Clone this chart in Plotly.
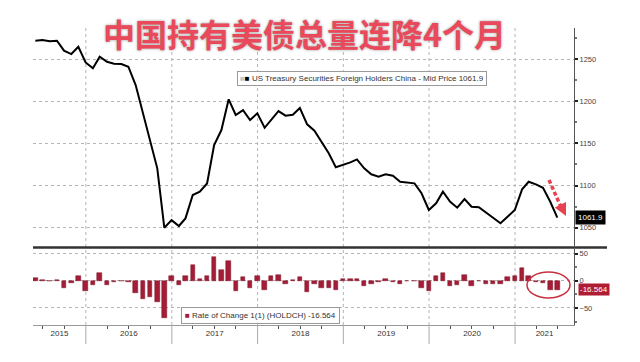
import pandas as pd
import plotly.graph_objects as go

# ---------------- data ----------------
months = pd.date_range("2015-05-31", periods=74, freq="ME")

holdings = [
    1271.7, 1272.5, 1271.0, 1271.7, 1259.9, 1255.9, 1264.6, 1246.0,
    1239.0, 1252.8, 1246.8, 1244.4, 1244.0, 1240.9, 1219.2, 1185.6, 1156.0, 1120.4, 1050.0, 1059.0,
    1052.0, 1061.0, 1088.7, 1092.7, 1102.5, 1148.0, 1165.8, 1202.2, 1183.6, 1189.5, 1177.7, 1185.6,
    1168.5, 1177.7, 1188.3, 1182.8, 1184.0, 1191.9, 1172.6, 1165.0, 1152.0, 1138.2, 1121.6, 1124.3,
    1127.5, 1131.0, 1120.4, 1113.3, 1110.5, 1113.3, 1111.7, 1104.5, 1103.4, 1102.6, 1090.8, 1071.0,
    1078.9, 1092.7, 1080.8, 1073.7, 1084.0, 1074.9, 1074.2, 1067.8, 1061.8, 1055.2, 1063.0, 1071.0,
    1095.5, 1104.5, 1101.4, 1097.4, 1080.8, 1061.9,
]

change = [
    5.5, 0.8, -1.2, 0.8, -12.5, -4.5, 9.5, -18.5,
    -8.0, 14.5, -7.0, -1.8, -0.6, -2.0, -22.5, -34.0, -29.5, -40.0, -68.0, 8.8,
    -7.0, 8.0, 28.5, 4.0, 9.5, 44.0, 19.0, 35.5, -19.0, 7.0, -12.5, 7.8,
    -16.5, 8.0, 10.0, -5.5, 1.0, 7.5, -20.0, -6.0, -13.0, -13.5, -17.0, 2.5,
    2.5, 3.2, -9.5, -6.8, -2.8, 2.5, -1.5, -6.5, -1.0, -0.8, -12.5, -19.5,
    7.8, 13.5, -10.5, -7.5, 10.2, -9.0, -0.6, -5.8, -5.8, -6.6, 7.6, 8.3,
    23.5, 8.5, -2.8, -3.8, -17.0, -16.564,
]

years = [2015, 2016, 2017, 2018, 2019, 2020, 2021]
upper_ticks = [1050, 1100, 1150, 1200, 1250]
lower_ticks = [-50, 0, 50]

title_text = "中国持有美债总量连降4个月"
legend1_text = "US Treasury Securities Foreign Holders China - Mid Price 1061.9"
legend2_text = "Rate of Change 1(1) (HOLDCH) -16.564"

# ---------------- layout constants ----------------
# page body has an 8px margin, so the figure is drawn 8px in from the window edge
OFF = 8
W, H = 640 - OFF, 362 - OFF
ML, MR, MT, MB = 33 - OFF, 66, 28 - OFF, 37
PW = W - ML - MR
PH = H - MT - MB

def px_x(px):
    return (px - OFF - ML) / PW

def px_y(py):
    return (H - MB - (py - OFF)) / PH

x_start = pd.Timestamp("2015-05-21")
x_end = pd.Timestamp("2021-09-09")

LINE_RED = "#e8414f"
BAR_RED = "#a51c36"
TICK_FONT = dict(family="Liberation Sans, Arial, sans-serif", size=7.5, color="#444")

fig = go.Figure()

fig.add_trace(go.Scatter(
    x=months, y=holdings, mode="lines",
    line=dict(color="black", width=2),
    xaxis="x", yaxis="y", showlegend=False, hoverinfo="skip",
))

fig.add_trace(go.Bar(
    x=months, y=change,
    marker=dict(color=BAR_RED, line=dict(color="#7a1226", width=0.5)),
    width=1000 * 60 * 60 * 24 * 19,
    xaxis="x", yaxis="y2", showlegend=False, hoverinfo="skip",
))

# year label positions: centre of the visible part of each year
year_mid = []
for yv in years:
    a = max(pd.Timestamp(f"{yv}-01-01"), x_start)
    b = min(pd.Timestamp(f"{yv + 1}-01-01"), x_end)
    year_mid.append(a + (b - a) / 2)

quarters = [d for d in pd.date_range("2015-07-01", "2021-09-01", freq="QS") if d.month != 1]

fig.update_layout(
    template="none",
    width=W, height=H,
    margin=dict(l=ML, r=MR, t=MT, b=MB, autoexpand=False),
    paper_bgcolor="white", plot_bgcolor="white",
    bargap=0,
    xaxis=dict(
        domain=[0, 1], anchor="y2", automargin=False,
        range=[x_start, x_end],
        tickmode="array", tickvals=year_mid, ticktext=[str(y) for y in years],
        ticks="", ticklen=0, showgrid=False, zeroline=False,
        showline=True, linecolor="#999", linewidth=1,
        tickfont=dict(family="Liberation Sans, Arial, sans-serif", size=8, color="#333"),
        minor=dict(tickmode="array", tickvals=quarters, ticks="outside", ticklen=3,
                   tickcolor="#555", tickwidth=1, showgrid=False),
    ),
    yaxis=dict(
        domain=[px_y(246), 1], anchor="x", side="right", automargin=False,
        range=[1028.3, 1286.8],
        tickmode="array", tickvals=upper_ticks,
        ticks="outside", ticklen=3, tickwidth=2, tickcolor="#222",
        showgrid=True, gridcolor="#b5b5b5", griddash="dot", gridwidth=1,
        zeroline=False, showline=True, linecolor="#555", linewidth=1,
        tickfont=TICK_FONT,
        minor=dict(dtick=25, tick0=1025, ticks="outside", ticklen=2, tickcolor="#777", showgrid=False),
    ),
    yaxis2=dict(
        domain=[0, px_y(249)], anchor="x", side="right", automargin=False,
        range=[-81.4, 58.3],
        tickmode="array", tickvals=lower_ticks,
        ticks="outside", ticklen=3, tickwidth=2, tickcolor="#222",
        showgrid=True, gridcolor="#b5b5b5", griddash="dot", gridwidth=1,
        zeroline=False, showline=True, linecolor="#555", linewidth=1,
        tickfont=TICK_FONT,
        minor=dict(dtick=25, tick0=-75, ticks="outside", ticklen=2, tickcolor="#777", showgrid=False),
    ),
)

shapes = []
for yv in years[1:]:
    d = pd.Timestamp(f"{yv}-01-01")
    shapes.append(dict(type="line", xref="x", yref="paper", x0=d, x1=d, y0=0, y1=1,
                       line=dict(color="#b5b5b5", width=1, dash="dot"), layer="below"))
    shapes.append(dict(type="line", xref="x", yref="paper", x0=d, x1=d, y0=px_y(344), y1=0,
                       line=dict(color="#aaa", width=1)))
# separator between panels
shapes.append(dict(type="line", xref="paper", yref="paper", x0=0, x1=px_x(607),
                   y0=px_y(247.5), y1=px_y(247.5), line=dict(color="#333", width=2.5)))
# red dashed arrow shaft
shapes.append(dict(type="line", xref="paper", yref="paper", x0=px_x(549), y0=px_y(180),
                   x1=px_x(561), y1=px_y(207), line=dict(color=LINE_RED, width=3.5, dash="4px,2.5px")))
# red ellipse around last bars
shapes.append(dict(type="circle", xref="paper", yref="paper", x0=px_x(527), x1=px_x(570),
                   y0=px_y(298), y1=px_y(272), line=dict(color="#c8303f", width=1.5)))
fig.update_layout(shapes=shapes)

annotations = [
    dict(text=f"<b>{title_text}</b>", xref="paper", yref="paper", x=px_x(304), y=px_y(33),
         xanchor="center", yanchor="middle", showarrow=False,
         font=dict(family="Noto Sans CJK SC", size=32, color="#e9495a",
                   shadow="0px 0px 3px #9a9a9a")),
    dict(text="<span style='color:#c8c8c8'>■</span><span style='color:#000'>■</span> " + legend1_text,
         xref="paper", yref="paper", x=px_x(237), y=px_y(78.5), xanchor="left", yanchor="middle",
         showarrow=False, bgcolor="white", bordercolor="#999", borderwidth=1, borderpad=2,
         font=dict(family="Liberation Sans, Arial, sans-serif", size=8, color="#333")),
    dict(text=f"<span style='color:{BAR_RED}'>■</span> " + legend2_text,
         xref="paper", yref="paper", x=px_x(181), y=px_y(315.5), xanchor="left", yanchor="middle",
         showarrow=False, bgcolor="white", bordercolor="#999", borderwidth=1, borderpad=3,
         font=dict(family="Liberation Sans, Arial, sans-serif", size=8, color="#333")),
    dict(text=f"{holdings[-1]:.1f}", xref="paper", yref="y", x=px_x(575), y=holdings[-1],
         xanchor="left", yanchor="middle", showarrow=False, bgcolor="black", borderpad=2,
         font=dict(family="Liberation Sans, Arial, sans-serif", size=8, color="white")),
    dict(text=f"{change[-1]:.3f}", xref="paper", yref="y2", x=px_x(578), y=change[-1],
         xanchor="left", yanchor="middle", showarrow=False, bgcolor="#b01c33", borderpad=1,
         font=dict(family="Liberation Sans, Arial, sans-serif", size=8, color="white")),
    dict(text="", xref="paper", yref="paper", x=px_x(566), y=px_y(216), ax=-5, ay=-10,
         showarrow=True, arrowhead=2, arrowsize=1, arrowwidth=2.5, arrowcolor=LINE_RED),
]
fig.update_layout(annotations=annotations)

fig.write_html("out.html")
